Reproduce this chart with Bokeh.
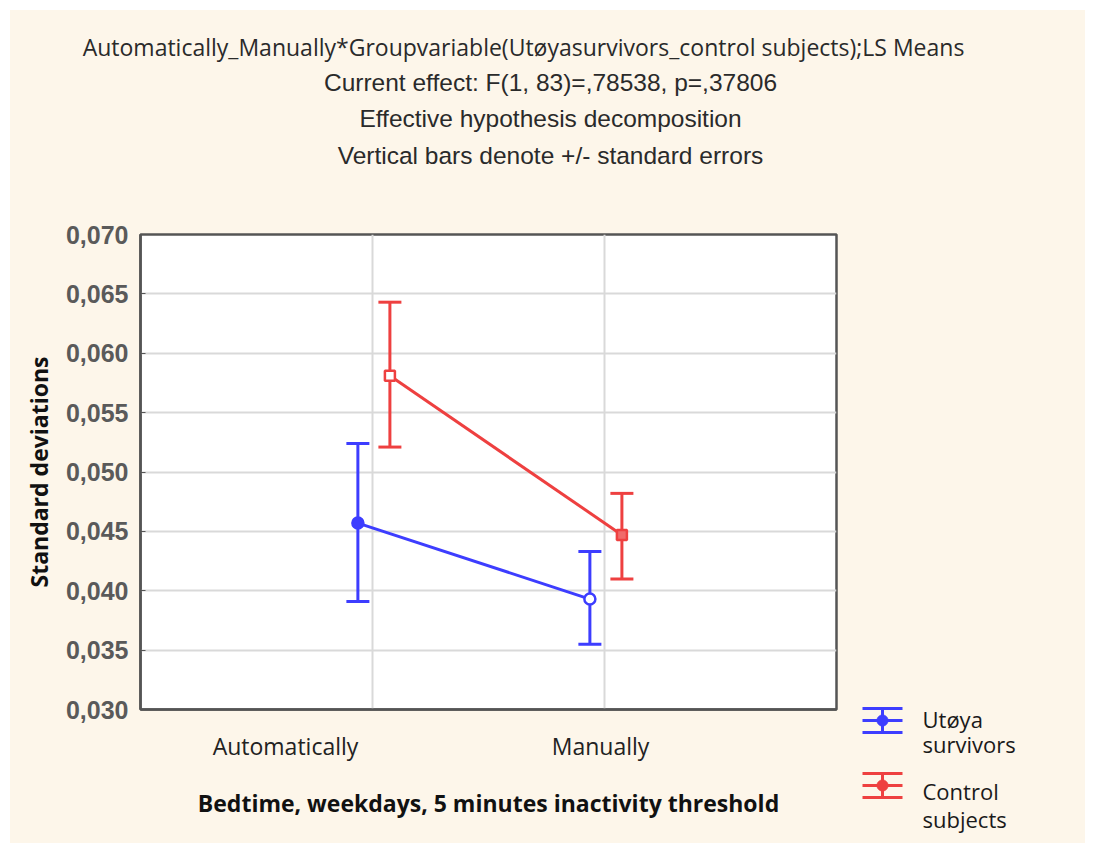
from bokeh.plotting import figure
from bokeh.layouts import column, row
from bokeh.models import (ColumnDataSource, Whisker, TeeHead, FixedTicker,
                          CustomJSTickFormatter, Range1d, Spacer)
from bokeh.core.properties import value
from bokeh.embed import file_html
from bokeh.resources import INLINE

# ---------------- data ----------------
categories = ["Automatically", "Manually"]
group_names = ["Utøya\nsurvivors", "Control\nsubjects"]
utoya_mean = [0.0457, 0.0393]
utoya_upper = [0.0524, 0.0433]
utoya_lower = [0.0391, 0.0355]
control_mean = [0.0581, 0.0447]
control_upper = [0.0643, 0.0482]
control_lower = [0.0521, 0.0410]
y_ticks = [0.030, 0.035, 0.040, 0.045, 0.050, 0.055, 0.060, 0.065, 0.070]
title_lines = [
    "Automatically_Manually*Groupvariable(Utøyasurvivors_control subjects);LS Means",
    "Current effect: F(1, 83)=,78538, p=,37806",
    "Effective hypothesis decomposition",
    "Vertical bars denote +/- standard errors",
]
x_title = "Bedtime, weekdays, 5 minutes inactivity threshold"
y_title = "Standard deviations"

# ---------------- style / layout ----------------
BLUE = "#3d3dff"
RED = "#ee4040"
CREAM = "#fdf6ea"
FRAME_COL = "#555555"
GRID_COL = "#d9d9d9"

PAD = 10                      # white strip left / top of the cream panel
TOTAL_W, TOTAL_H = 1075, 833  # cream panel
HT = 180                      # height of the title band
WM = 836                      # width of the main figure
FL, FR, FT, FB = 140, 836, 234, 709   # page-pixel frame edges
HM = TOTAL_H - HT
WL = TOTAL_W - WM
LEG_TOP = 690                 # page y where the legend band starts
HL = PAD + TOTAL_H - LEG_TOP


def blank(width, height):
    f = figure(width=width, height=height, x_range=Range1d(0, width), y_range=Range1d(height, 0),
               x_axis_type=None, y_axis_type=None, output_backend="svg", toolbar_location=None,
               min_border=0, background_fill_color=CREAM, border_fill_color=CREAM)
    f.outline_line_color = None
    f.grid.visible = False
    return f


# ---------------- title band ----------------
tf = blank(TOTAL_W, HT)
tx = [523 - PAD, 550 - PAD, 550 - PAD, 550 - PAD]
ty = [46 - PAD, 82 - PAD, 118 - PAD, 155 - PAD]
tf.text(x=tx[:1], y=ty[:1], text=title_lines[:1],
        text_align="center", text_baseline="middle", text_font=value("Open Sans"),
        text_font_size="23px", text_color="#2a2a2a")
tf.text(x=tx[1:], y=ty[1:], text=title_lines[1:],
        text_align="center", text_baseline="middle", text_font=value("Liberation Sans"),
        text_font_size="24.5px", text_color="#2a2a2a")

# ---------------- main plot ----------------
Y0, Y1 = 0.030, 0.070
X0, X1 = 0.0, 3.0
p = figure(frame_width=FR - FL, frame_height=FB - FT,
           x_range=Range1d(X0, X1), y_range=Range1d(Y0, Y1),
           output_backend="svg", toolbar_location=None,
           min_border_left=FL - PAD, min_border_right=WM - (FR - PAD),
           min_border_top=FT - PAD - HT, min_border_bottom=PAD + TOTAL_H - FB,
           background_fill_color="white", border_fill_color=CREAM)
p.outline_line_color = FRAME_COL
p.outline_line_width = 2.5

p.xgrid.ticker = FixedTicker(ticks=[i + 1 for i in range(len(categories))])
p.ygrid.ticker = FixedTicker(ticks=y_ticks)
for g in (p.xgrid, p.ygrid):
    g.grid_line_color = GRID_COL
    g.grid_line_width = 2

# x axis (labels sit left of the category gridlines, as in the reference)
label_pos = [0.625, 1.983]
xa = p.xaxis[0]
xa.ticker = FixedTicker(ticks=label_pos)
xa.formatter = CustomJSTickFormatter(
    args=dict(pos=label_pos, labels=categories),
    code="const i = pos.findIndex(v => Math.abs(v - tick) < 1e-6); return i >= 0 ? labels[i] : '';")
xa.major_tick_in = 0
xa.major_tick_out = 0
xa.minor_tick_in = 0
xa.minor_tick_out = 0
xa.axis_line_color = FRAME_COL
xa.axis_line_width = 2.5
xa.major_label_text_font = "Open Sans"
xa.major_label_text_font_size = "23px"
xa.major_label_text_color = "#222222"
xa.major_label_standoff = 20
xa.axis_label = x_title
xa.axis_label_text_font = "Open Sans"
xa.axis_label_text_font_style = "bold"
xa.axis_label_text_font_size = "23px"
xa.axis_label_text_color = "#111111"
xa.axis_label_standoff = 22

ya = p.yaxis[0]
ya.ticker = FixedTicker(ticks=y_ticks)
ya.formatter = CustomJSTickFormatter(code="return tick.toFixed(3).replace('.', ',');")
ya.major_tick_in = 5
ya.major_tick_out = 0
ya.minor_tick_in = 0
ya.minor_tick_out = 0
ya.major_tick_line_color = FRAME_COL
ya.axis_line_color = FRAME_COL
ya.axis_line_width = 2.5
ya.major_label_text_font = "Liberation Sans"
ya.major_label_text_font_style = "bold"
ya.major_label_text_font_size = "25px"
ya.major_label_text_color = "#5a5a5a"
ya.major_label_standoff = 12
ya.axis_label = y_title
ya.axis_label_text_font = "Open Sans"
ya.axis_label_text_font_style = "bold"
ya.axis_label_text_font_size = "23px"
ya.axis_label_text_color = "#111111"
ya.axis_label_standoff = 8

series = [
    dict(mean=utoya_mean, upper=utoya_upper, lower=utoya_lower, color=BLUE,
         offset=-0.063, marker=["circle", "circle"], fill=[BLUE, "white"], size=11),
    dict(mean=control_mean, upper=control_upper, lower=control_lower, color=RED,
         offset=0.075, marker=["square", "square"], fill=["white", "#f06a6a"], size=10),
]
for s in series:
    xs = [i + 1 + s["offset"] for i in range(len(categories))]
    src = ColumnDataSource(dict(x=xs, mean=s["mean"], upper=s["upper"], lower=s["lower"],
                                marker=s["marker"], fill=s["fill"]))
    col = s["color"]
    p.line("x", "mean", source=src, line_color=col, line_width=3)
    p.add_layout(Whisker(source=src, base="x", upper="upper", lower="lower",
                         line_color=col, line_width=3,
                         upper_head=TeeHead(size=23, line_color=col, line_width=3),
                         lower_head=TeeHead(size=23, line_color=col, line_width=3)))
    p.scatter("x", "mean", source=src, marker="marker", size=s["size"],
              fill_color="fill", line_color=col, line_width=2.5)

# ---------------- legend band (lower right) ----------------
lf = blank(WL, HL)
ox, oy = PAD + WM, LEG_TOP          # page offset of the legend band
icon_cx, icon_half, icon_gap = 882 - ox, 20, 12
icon_cy = [720 - oy, 785 - oy]
colors = [BLUE, RED]
for cy, col in zip(icon_cy, colors):
    lf.segment(x0=[icon_cx - icon_half] * 3, x1=[icon_cx + icon_half] * 3,
               y0=[cy - icon_gap, cy, cy + icon_gap], y1=[cy - icon_gap, cy, cy + icon_gap],
               line_color=col, line_width=3)
    lf.segment(x0=[icon_cx], x1=[icon_cx], y0=[cy - icon_gap], y1=[cy + icon_gap],
               line_color=col, line_width=3)
    lf.scatter(x=[icon_cx], y=[cy], marker="circle", size=11, fill_color=col, line_color=col)
lt_x, lt_y, lt_text = [], [], []
first_line_y = [718 - oy, 790 - oy]
line_step = [25, 28]
for name, y0, step in zip(group_names, first_line_y, line_step):
    for k, part in enumerate(name.split("\n")):
        lt_x.append(922 - ox)
        lt_y.append(y0 + k * step)
        lt_text.append(part)
lf.text(x=lt_x, y=lt_y, text=lt_text, text_align="left", text_baseline="middle",
        text_font=value("Open Sans"), text_font_size="22px", text_color="#1a1a1a")

right_col = column(Spacer(width=WL, height=HM - HL, styles={"background-color": CREAM}), lf,
                   styles={"background-color": CREAM})
inner = column(tf, row(p, right_col, styles={"background-color": CREAM}),
               styles={"background-color": CREAM})
layout = column(Spacer(height=PAD, width=TOTAL_W),
                row(Spacer(width=PAD, height=TOTAL_H), inner))
open("out.html", "w").write(file_html(layout, INLINE))
